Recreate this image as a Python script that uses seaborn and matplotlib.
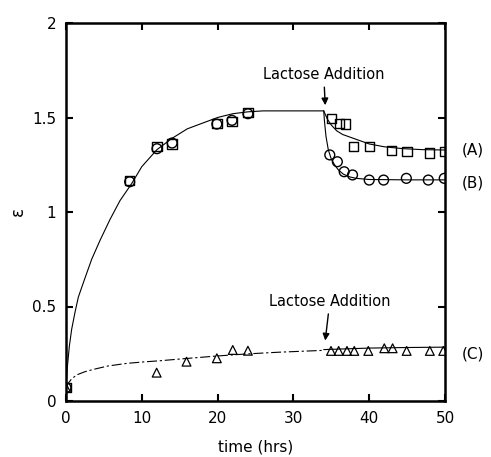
import matplotlib
matplotlib.use("Agg")
import matplotlib.pyplot as plt
import seaborn as sns
import pandas as pd

# ---- data ----
A_t = [0, 8.4, 12.0, 14.0, 19.9, 21.9, 24.0, 35.05, 36.05, 36.9, 37.9, 40.0, 42.9, 45.0, 48.0, 49.9]
A_y = [0.07, 1.165, 1.345, 1.36, 1.47, 1.48, 1.525, 1.496, 1.469, 1.466, 1.345, 1.345, 1.325, 1.319, 1.313, 1.319]

B_t = [0, 8.4, 12.0, 14.0, 19.9, 21.9, 24.0, 34.8, 35.8, 36.7, 37.8, 40.0, 41.9, 44.9, 47.8, 49.9]
B_y = [0.07, 1.16, 1.335, 1.365, 1.465, 1.485, 1.52, 1.302, 1.266, 1.213, 1.196, 1.169, 1.169, 1.178, 1.169, 1.178]

C_t = [0, 11.96, 15.9, 19.9, 22.0, 24.0, 34.96, 35.97, 37.07, 38.03, 39.88, 41.99, 43.09, 44.94, 48.0, 49.77]
C_y = [0.07, 0.15, 0.208, 0.226, 0.27, 0.266, 0.265, 0.265, 0.265, 0.265, 0.265, 0.279, 0.279, 0.265, 0.265, 0.265]

# fitted curves
fitAB_t = [0, 0.18, 0.44, 0.75, 1.19, 1.63, 2.5, 3.39, 4.49, 5.8, 7.12, 8.66, 10, 12, 14, 16, 18, 20, 22, 24, 26, 34]
fitAB_y = [0.07, 0.18, 0.29, 0.38, 0.47, 0.55, 0.65, 0.75, 0.85, 0.96, 1.06, 1.15, 1.24, 1.33, 1.39, 1.44, 1.47, 1.50, 1.52, 1.53, 1.535, 1.535]
fitA2_t = [34, 34.5, 35, 35.7, 36.5, 37.9, 40, 42, 44.5, 47, 50]
fitA2_y = [1.535, 1.49, 1.46, 1.43, 1.41, 1.39, 1.36, 1.345, 1.335, 1.33, 1.328]
fitB2_t = [34, 34.1, 34.3, 34.6, 35.0, 35.5, 36.0, 36.6, 37.5, 38.3, 40, 45, 50]
fitB2_y = [1.535, 1.48, 1.40, 1.33, 1.28, 1.245, 1.22, 1.20, 1.185, 1.178, 1.172, 1.17, 1.17]
fitC1_t = [0, 0.3, 0.7, 1.4, 2.5, 3.6, 5.5, 8, 10, 12.4, 15.9, 19.9, 23.8, 28, 34]
fitC1_y = [0.07, 0.094, 0.115, 0.138, 0.155, 0.167, 0.185, 0.199, 0.206, 0.213, 0.225, 0.238, 0.249, 0.258, 0.268]
fitC2_t = [34, 40, 45, 50]
fitC2_y = [0.272, 0.28, 0.283, 0.285]

x_ticks = [0, 10, 20, 30, 40, 50]
y_ticks = [0, 0.5, 1, 1.5, 2]
y_tick_labels = ["0", "0.5", "1", "1.5", "2"]

sns.set_style("ticks")
plt.rcParams['font.family'] = ['DejaVu Sans']
plt.rcParams.update({"text.color": "black", "axes.labelcolor": "black",
                     "xtick.color": "black", "ytick.color": "black",
                     "axes.edgecolor": "black"})

fig = plt.figure(figsize=(4.91, 4.57), dpi=100)
ax = fig.add_axes([66/491, 56/457, 379/491, 378/457])

lw = 0.8
def curve(t, y, **kw):
    df = pd.DataFrame({"t": t, "y": y})
    sns.lineplot(data=df, x="t", y="y", ax=ax, color="black", linewidth=lw,
                 sort=False, estimator=None, **kw)

curve(fitAB_t, fitAB_y)
curve(fitA2_t, fitA2_y)
curve(fitB2_t, fitB2_y)
curve(fitC1_t, fitC1_y)
ax.lines[-1].set_linestyle((0, (9, 2.5, 2, 2.5)))
curve(fitC2_t, fitC2_y)

sns.scatterplot(x=A_t, y=A_y, ax=ax, marker="s", s=45, facecolor="none",
                edgecolor="black", linewidth=1.0, zorder=3)
sns.scatterplot(x=B_t, y=B_y, ax=ax, marker="o", s=50, facecolor="none",
                edgecolor="black", linewidth=1.0, zorder=3)
sns.scatterplot(x=C_t, y=C_y, ax=ax, marker="^", s=40, facecolor="none",
                edgecolor="black", linewidth=0.9, zorder=3)

ax.set_xlim(0, 50)
ax.set_ylim(0, 2)
ax.set_xticks(x_ticks)
ax.set_yticks(y_ticks)
ax.set_yticklabels(y_tick_labels)
ax.tick_params(direction="in", length=5, width=1.5, labelsize=11,
               top=True, right=True, pad=7, colors="black")
for sp in ax.spines.values():
    sp.set_linewidth(1.8)
    sp.set_color("black")
    sp.set_visible(True)

ax.set_xlabel("time (hrs)", fontsize=11, labelpad=10)
ax.set_ylabel("ε", fontsize=12, labelpad=4)

# annotations
ax.annotate("Lactose Addition", xy=(34.2, 1.565), xytext=(34.0, 1.725),
            ha="center", va="center", fontsize=10.5,
            arrowprops=dict(arrowstyle="-|>", color="black", lw=1.0,
                            mutation_scale=10, shrinkA=1, shrinkB=0))
ax.annotate("Lactose Addition", xy=(34.2, 0.32), xytext=(34.8, 0.525),
            ha="center", va="center", fontsize=10.5,
            arrowprops=dict(arrowstyle="-|>", color="black", lw=1.0,
                            mutation_scale=10, shrinkA=1, shrinkB=0))

ax.text(52.2, 1.328, "(A)", ha="left", va="center", fontsize=11, clip_on=False)
ax.text(52.2, 1.153, "(B)", ha="left", va="center", fontsize=11, clip_on=False)
ax.text(52.2, 0.249, "(C)", ha="left", va="center", fontsize=11, clip_on=False)

fig.savefig("out.png", dpi=100)
